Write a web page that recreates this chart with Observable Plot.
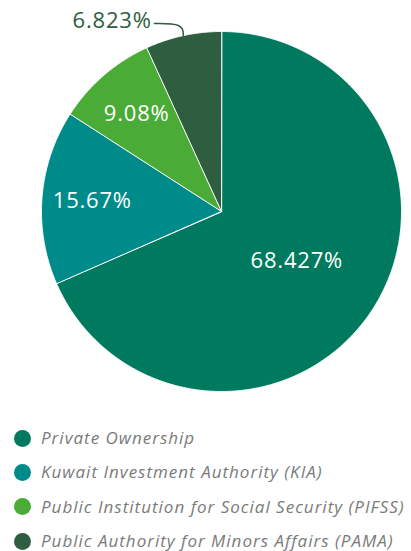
<!DOCTYPE html>
<html><head><meta charset="utf-8">
<script src="https://cdn.jsdelivr.net/npm/d3@7"></script>
<script src="https://cdn.jsdelivr.net/npm/@observablehq/plot@0.6"></script>
<style>
body{margin:0;background:#fff;font-family:"Open Sans",sans-serif;}
#legend{padding-top:10px;}
.item{display:flex;align-items:center;height:34.3px;padding-left:14px;}
.sw{width:17px;height:17px;border-radius:50%;margin-right:10px;flex:none;}
.lab{font-style:italic;font-size:17px;line-height:20px;letter-spacing:1px;color:#7a7a7a;white-space:nowrap;}
</style></head><body><div id="chart"></div><div id="legend"></div>
<script>
const categories = ["Private Ownership","Kuwait Investment Authority (KIA)","Public Institution for Social Security (PIFSS)","Public Authority for Minors Affairs (PAMA)"];
const values = [68.427, 15.67, 9.08, 6.823];
const labels = ["68.427%","15.67%","9.08%","6.823%"];
const colors = ["#007a5e","#008b8b","#4aab37","#2e5d40"];

const pie = d3.pie().sort(null).value(d => d)(values);
const slices = [];
pie.forEach((p, i) => {
  slices.push({cat: categories[i], x: 0, y: 0});
  const n = Math.max(2, Math.ceil((p.endAngle - p.startAngle) / 0.005));
  for (let k = 0; k <= n; k++) {
    const a = p.startAngle + (p.endAngle - p.startAngle) * k / n;
    slices.push({cat: categories[i], x: Math.sin(a), y: Math.cos(a)});
  }
});
const mid = p => (p.startAngle + p.endAngle) / 2;
const inside = pie.slice(0, 3).map((p, i) => {
  const r = values[i] > 50 ? 0.5 : 0.72;
  return {label: labels[i], x: r * Math.sin(mid(p)), y: r * Math.cos(mid(p))};
});
const pm = pie[3];
const end = {x: Math.sin(mid(pm)), y: Math.cos(mid(pm))};
const ly = 1.045;
const leader = [
  {x: end.x - 0.16, y: ly},
  {x: end.x, y: ly},
  {x: end.x, y: end.y}
];
const outside = [{label: labels[3], x: end.x - 0.175, y: 1.058}];

const chart = Plot.plot({
  width: 411, height: 411,
  marginLeft: 41, marginRight: 10, marginTop: 31, marginBottom: 20,
  x: {domain: [-1, 1], axis: null},
  y: {domain: [-1, 1], axis: null},
  color: {domain: categories, range: colors},
  style: {fontFamily: "'Open Sans', sans-serif", background: "#fff", letterSpacing: "0.8px"},
  marks: [
    Plot.line(slices, {x: "x", y: "y", z: "cat", fill: "cat", stroke: "white", strokeWidth: 1, curve: "linear-closed"}),
    Plot.text(inside, {x: "x", y: "y", text: "label", fill: "white", fontSize: 22}),
    Plot.line(leader, {x: "x", y: "y", stroke: colors[3], strokeWidth: 1.5, curve: "basis"}),
    Plot.text(outside, {x: "x", y: "y", text: "label", textAnchor: "end", fill: colors[3], fontSize: 22})
  ]
});
document.getElementById("chart").append(chart);

const legend = document.getElementById("legend");
categories.forEach((c, i) => {
  const it = document.createElement("div");
  it.className = "item";
  const sw = document.createElement("span");
  sw.className = "sw"; sw.style.background = colors[i];
  const lb = document.createElement("span");
  lb.className = "lab"; lb.textContent = c;
  it.append(sw, lb);
  legend.append(it);
});
</script></body></html>
